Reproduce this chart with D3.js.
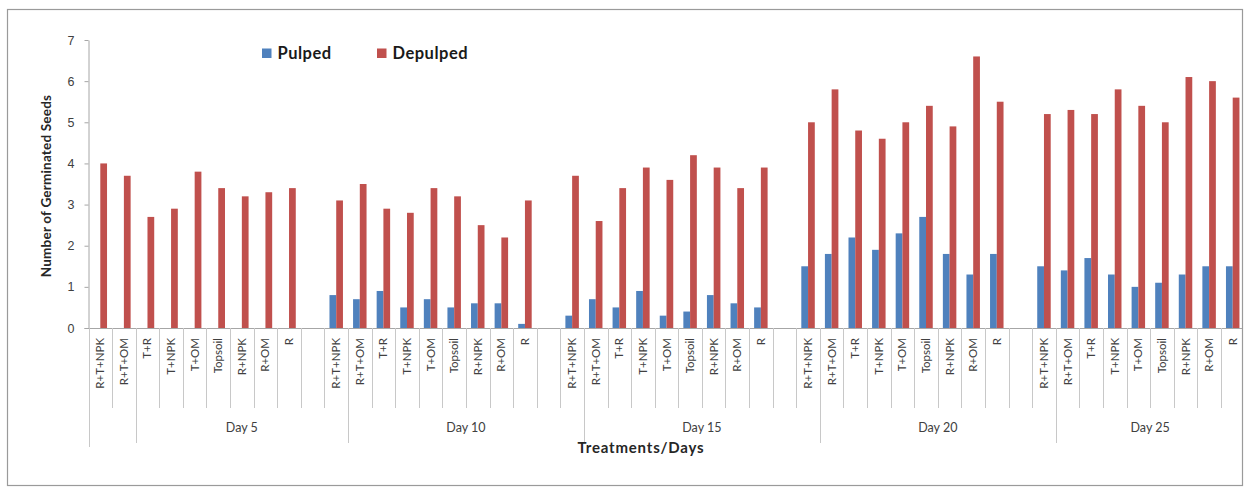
<!DOCTYPE html>
<html>
<head>
<meta charset="utf-8">
<script src="https://cdn.jsdelivr.net/npm/d3@7/dist/d3.min.js"></script>
<style>
  html, body { margin: 0; padding: 0; background: #fff; }
  svg { display: block; font-family: Lato, "Open Sans", sans-serif; }
</style>
</head>
<body>
<svg id="chart" width="1247" height="487"></svg>
<script>
// Treatments tested on each observation day
const treatments = ["R+T+NPK", "R+T+OM", "T+R", "T+NPK", "T+OM", "Topsoil", "R+NPK", "R+OM", "R"];
const days = ["Day 5", "Day 10", "Day 15", "Day 20", "Day 25"];
const seriesNames = ["Pulped", "Depulped"];
const seriesColors = ["#4F81BD", "#C0504D"];

// Germinated seeds per treatment, one row per day
const pulped = [
  [0, 0, 0, 0, 0, 0, 0, 0, 0],
  [0.8, 0.7, 0.9, 0.5, 0.7, 0.5, 0.6, 0.6, 0.1],
  [0.3, 0.7, 0.5, 0.9, 0.3, 0.4, 0.8, 0.6, 0.5],
  [1.5, 1.8, 2.2, 1.9, 2.3, 2.7, 1.8, 1.3, 1.8],
  [1.5, 1.4, 1.7, 1.3, 1.0, 1.1, 1.3, 1.5, 1.5]
];
const depulped = [
  [4.0, 3.7, 2.7, 2.9, 3.8, 3.4, 3.2, 3.3, 3.4],
  [3.1, 3.5, 2.9, 2.8, 3.4, 3.2, 2.5, 2.2, 3.1],
  [3.7, 2.6, 3.4, 3.9, 3.6, 4.2, 3.9, 3.4, 3.9],
  [5.0, 5.8, 4.8, 4.6, 5.0, 5.4, 4.9, 6.6, 5.5],
  [5.2, 5.3, 5.2, 5.8, 5.4, 5.0, 6.1, 6.0, 5.6]
];

const yTicks = [0, 1, 2, 3, 4, 5, 6, 7];

// Outer category labels and the category where each one's bracket begins
const groupLabels = ["", "Day 5", "Day 10", "Day 15", "Day 20", "Day 25"];
const groupStarts = ["Day 5|R+T+NPK", "Day 5|T+R", "Day 10|R+T+OM", "Day 15|R+T+OM", "Day 20|R+T+OM", "Day 25|R+T+OM"];

// Flat category list: nine treatments per day with an empty slot between days
const slots = [];
days.forEach((day, di) => {
  treatments.forEach((t, ti) => {
    slots.push({ key: day + "|" + t, label: t, values: [pulped[di][ti], depulped[di][ti]] });
  });
  if (di < days.length - 1) slots.push({ key: "gap" + di, label: "", values: null });
});

const svg = d3.select("#chart");

// Chart area border
svg.append("rect")
  .attr("x", 7.5).attr("y", 9.5).attr("width", 1235).attr("height", 476)
  .attr("fill", "#fff").attr("stroke", "#9a9a9a").attr("stroke-width", 1.2);

const clip = svg.append("defs").append("clipPath").attr("id", "frame");
clip.append("rect").attr("x", 8).attr("y", 10).attr("width", 1234).attr("height", 475);

const g = svg.append("g").attr("clip-path", "url(#frame)");

const x = d3.scaleBand().domain(slots.map(d => d.key)).range([88.5, 1244.5]).paddingInner(0).paddingOuter(0);
const xs = d3.scaleBand().domain(seriesNames).range([0, x.bandwidth()]).paddingInner(0).paddingOuter(0.75);
const y = d3.scaleLinear().domain([0, 7]).range([328, 40]);

// Bars
const slotG = g.selectAll("g.slot")
  .data(slots.filter(d => d.values))
  .join("g")
  .attr("class", "slot")
  .attr("transform", d => `translate(${x(d.key)},0)`);

slotG.selectAll("rect")
  .data(d => d.values.map((v, i) => ({ name: seriesNames[i], v, i })))
  .join("rect")
  .attr("x", d => xs(d.name))
  .attr("width", xs.bandwidth())
  .attr("y", d => y(d.v))
  .attr("height", d => y(0) - y(d.v))
  .attr("fill", d => seriesColors[d.i]);

// Y axis
const yAxis = d3.axisLeft(y).tickValues(yTicks).tickSize(4).tickSizeOuter(0).tickPadding(10).tickFormat(d3.format("d"));
const ya = svg.append("g").attr("transform", "translate(88.5,0)").call(yAxis);
ya.select(".domain").attr("stroke", "#a6a6a6");
ya.selectAll(".tick line").attr("stroke", "#a6a6a6");
ya.selectAll(".tick text").attr("fill", "#404040").attr("font-size", 12.5);

// X axis baseline
g.append("line")
  .attr("x1", 84.5).attr("x2", 1244.5)
  .attr("y1", y(0) + 0.5).attr("y2", y(0) + 0.5)
  .attr("stroke", "#a6a6a6");

// Category separators: short for each slot, long where an outer group begins
const boundaries = slots.map(d => d.key).concat(["end"]);
const bx = k => k === "end" ? x.range()[1] : x(k);
g.selectAll("line.sep")
  .data(boundaries)
  .join("line")
  .attr("class", "sep")
  .attr("x1", k => Math.round(bx(k)) + 0.5)
  .attr("x2", k => Math.round(bx(k)) + 0.5)
  .attr("y1", y(0))
  .attr("y2", (k, i) => groupStarts.includes(k) || k === "end" ? (i === 0 ? 447 : 443) : 408)
  .attr("stroke", "#c8c8c8");

// Inner category labels
g.selectAll("text.cat")
  .data(slots.filter(d => d.label))
  .join("text")
  .attr("class", "cat")
  .attr("transform", d => `translate(${x(d.key) + x.bandwidth() / 2 + 4},338) rotate(-90)`)
  .attr("text-anchor", "end")
  .attr("font-size", 11.5)
  .attr("fill", "#404040")
  .text(d => d.label);

// Outer group labels centred under their brackets
groupLabels.forEach((lab, i) => {
  if (!lab) return;
  const x0 = x(groupStarts[i]);
  const x1 = i + 1 < groupStarts.length ? x(groupStarts[i + 1]) : x.range()[1];
  g.append("text")
    .attr("x", (x0 + x1) / 2)
    .attr("y", 432)
    .attr("text-anchor", "middle")
    .attr("font-size", 12.5)
    .attr("fill", "#404040")
    .text(lab);
});

// Axis titles
svg.append("text")
  .attr("transform", "translate(51,186) rotate(-90)")
  .attr("text-anchor", "middle")
  .attr("font-size", 13.5)
  .attr("font-weight", "bold")
  .attr("letter-spacing", 0.2)
  .attr("fill", "#262626")
  .text("Number of Germinated Seeds");

svg.append("text")
  .attr("x", 641).attr("y", 453)
  .attr("text-anchor", "middle")
  .attr("font-size", 15)
  .attr("font-weight", "bold")
  .attr("letter-spacing", 0.8)
  .attr("fill", "#262626")
  .text("Treatments/Days");

// Legend
const legendX = [262, 377];
const legend = svg.selectAll("g.legend")
  .data(seriesNames)
  .join("g")
  .attr("class", "legend")
  .attr("transform", (d, i) => `translate(${legendX[i]},48.5)`);
legend.append("rect").attr("width", 9.5).attr("height", 9.5).attr("fill", (d, i) => seriesColors[i]);
legend.append("text")
  .attr("x", 15.5).attr("y", 10.5)
  .attr("font-size", 16.5)
  .attr("font-weight", "bold")
  .attr("letter-spacing", 0.5)
  .attr("fill", "#1a1a1a")
  .text(d => d);
</script>
</body>
</html>
